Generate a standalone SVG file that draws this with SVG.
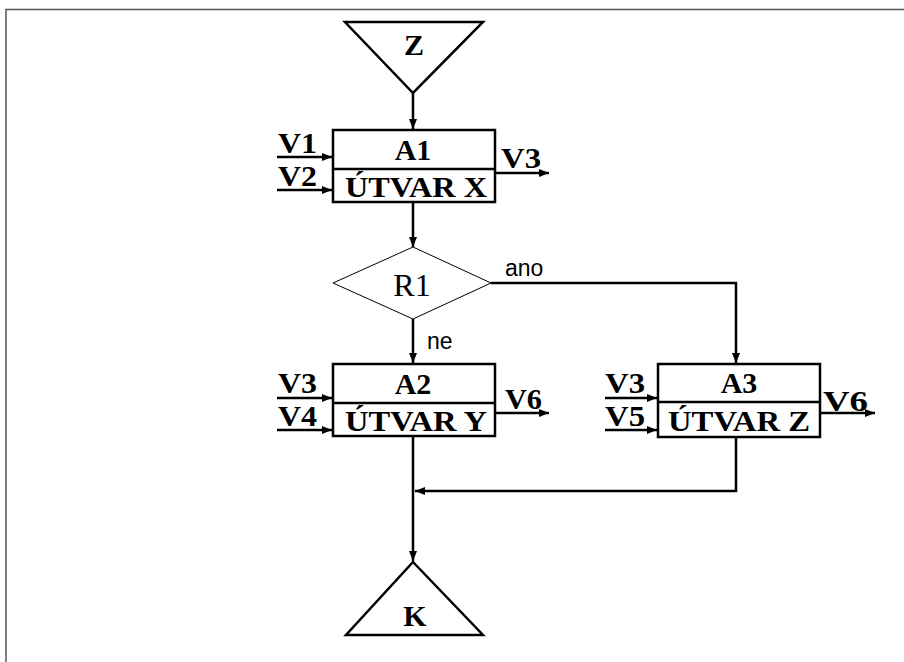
<svg xmlns="http://www.w3.org/2000/svg" width="904" height="662" viewBox="0 0 904 662">
<defs>
<marker id="ah" markerUnits="userSpaceOnUse" markerWidth="12" markerHeight="10" refX="10" refY="5" orient="auto">
<path d="M0,1 L10,5 L0,9 Z" fill="#000"/>
</marker>
</defs>
<style>
.frame{fill:none;stroke:#555;stroke-width:1.5}
.box{fill:#fff;stroke:#000;stroke-width:2.5}
.thin{fill:#fff;stroke:#000;stroke-width:1}
.ln{fill:none;stroke:#000;stroke-width:2.5}
.arr{fill:none;stroke:#000;stroke-width:2.5;marker-end:url(#ah)}
.b{font-family:"Liberation Serif","Times New Roman",serif;font-weight:bold;font-size:30px;fill:#000}
.r{font-family:"Liberation Serif","Times New Roman",serif;font-size:32px;fill:#000}
.s{font-family:"Liberation Sans",Arial,sans-serif;font-size:23px;fill:#000}
</style>
<rect width="904" height="662" fill="#fff"/>
<path class="frame" d="M6,662 L6,9.5 L904,9.5"/>

<g id="connectors">
<line class="arr" x1="413" y1="93" x2="413" y2="129"/>
<line class="arr" x1="413" y1="203" x2="413" y2="247"/>
<path class="arr" d="M491,283 L736,283 L736,363"/>
<line class="arr" x1="413" y1="319" x2="413" y2="363"/>
<line class="arr" x1="413" y1="436" x2="413" y2="561"/>
<path class="arr" d="M736,438 L736,491 L415,491"/>
<line class="arr" x1="277" y1="157" x2="332" y2="157"/>
<line class="arr" x1="277" y1="190" x2="332" y2="190"/>
<line class="arr" x1="495" y1="173" x2="549" y2="173"/>
<line class="arr" x1="277" y1="398" x2="332" y2="398"/>
<line class="arr" x1="277" y1="430" x2="332" y2="430"/>
<line class="arr" x1="495" y1="413" x2="549" y2="413"/>
<line class="arr" x1="605" y1="398" x2="657" y2="398"/>
<line class="arr" x1="605" y1="430" x2="657" y2="430"/>
<line class="arr" x1="820" y1="413" x2="875" y2="413"/>
</g>

<g id="labels">
<text class="b" x="278" y="153" textLength="39" lengthAdjust="spacingAndGlyphs">V1</text>
<text class="b" x="278" y="186" textLength="39" lengthAdjust="spacingAndGlyphs">V2</text>
<text class="b" x="501" y="168" textLength="40" lengthAdjust="spacingAndGlyphs">V3</text>
<text class="b" x="278" y="393" textLength="39" lengthAdjust="spacingAndGlyphs">V3</text>
<text class="b" x="278" y="426" textLength="39" lengthAdjust="spacingAndGlyphs">V4</text>
<text class="b" x="505" y="409" textLength="37" lengthAdjust="spacingAndGlyphs">V6</text>
<text class="b" x="605" y="393" textLength="40" lengthAdjust="spacingAndGlyphs">V3</text>
<text class="b" x="605" y="426" textLength="40" lengthAdjust="spacingAndGlyphs">V5</text>
<text class="b" x="823" y="411" textLength="45" lengthAdjust="spacingAndGlyphs">V6</text>
<text class="s" x="505" y="276">ano</text>
<text class="s" x="427" y="349">ne</text>
</g>

<g id="Z">
<polygon class="box" points="345,22 483,22 413,93"/>
<text class="b" x="414" y="55" text-anchor="middle">Z</text>
</g>

<g id="A1">
<rect class="box" x="333" y="130" width="162" height="72"/>
<line class="ln" x1="333" y1="169" x2="495" y2="169"/>
<text class="b" x="413" y="160" text-anchor="middle">A1</text>
<text class="b" x="345" y="197" textLength="142" lengthAdjust="spacingAndGlyphs">ÚTVAR X</text>
</g>

<g id="R1">
<polygon class="thin" points="333,283 413,247 491,283 413,319"/>
<text class="r" x="412" y="296" text-anchor="middle">R1</text>
</g>

<g id="A2">
<rect class="box" x="333" y="364" width="162" height="72"/>
<line class="ln" x1="333" y1="403" x2="495" y2="403"/>
<text class="b" x="413" y="394" text-anchor="middle">A2</text>
<text class="b" x="345" y="431" textLength="142" lengthAdjust="spacingAndGlyphs">ÚTVAR Y</text>
</g>

<g id="A3">
<rect class="box" x="658" y="364" width="162" height="73"/>
<line class="ln" x1="658" y1="402" x2="820" y2="402"/>
<text class="b" x="739" y="393" text-anchor="middle">A3</text>
<text class="b" x="668" y="431" textLength="142" lengthAdjust="spacingAndGlyphs">ÚTVAR Z</text>
</g>

<g id="K">
<polygon class="box" points="413,562 483,635 346,635"/>
<text class="b" x="415" y="626" text-anchor="middle">K</text>
</g>
</svg>
